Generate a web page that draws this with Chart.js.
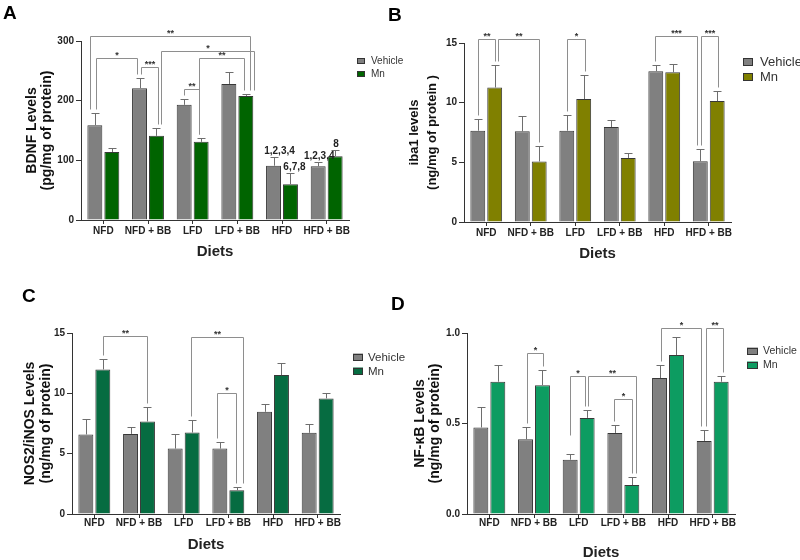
<!DOCTYPE html>
<html>
<head>
<meta charset="utf-8">
<script src="https://cdn.jsdelivr.net/npm/chart.js@4.4.1/dist/chart.umd.min.js"></script>
<style>
    body { margin: 0; background: #fff; }
    #page { position: relative; width: 800px; height: 560px; overflow: hidden; background: #fff; }
    canvas { position: absolute; }
</style>
</head>
<body>
<div id="page">
    <canvas id="chartA" width="405" height="280" style="left:0;top:0"></canvas>
    <canvas id="chartB" width="415" height="280" style="left:385px;top:0"></canvas>
    <canvas id="chartC" width="405" height="280" style="left:0;top:280px"></canvas>
    <canvas id="chartD" width="415" height="280" style="left:385px;top:280px"></canvas>
</div>
<script>
const diets = ["NFD", "NFD + BB", "LFD", "LFD + BB", "HFD", "HFD + BB"];

// A - BDNF (pg/mg of protein), mean and SEM
const bdnfVehicle = [159, 221, 193, 228, 91, 90];
const bdnfVehicleSem = [20, 17, 9, 20, 15, 8];
const bdnfMn = [114, 141, 131, 208, 60, 107];
const bdnfMnSem = [7, 14, 7, 3, 18, 10];

// B - iba1 (ng/mg of protein)
const ibaVehicle = [7.65, 7.6, 7.65, 7.96, 12.64, 5.09];
const ibaVehicleSem = [1.0, 1.3, 1.35, 0.55, 0.55, 1.0];
const ibaMn = [11.27, 5.07, 10.3, 5.37, 12.55, 10.13];
const ibaMnSem = [1.9, 1.28, 2.03, 0.45, 0.7, 0.87];

// C - NOS2/iNOS (ng/mg of protein)
const nosVehicle = [6.59, 6.64, 5.42, 5.42, 8.47, 6.73];
const nosVehicleSem = [1.27, 0.56, 1.22, 0.53, 0.61, 0.72];
const nosMn = [11.98, 7.67, 6.75, 1.97, 11.51, 9.58];
const nosMnSem = [0.83, 1.19, 1.03, 0.23, 0.97, 0.47];

// D - NF-kB (ng/mg of protein)
const nfkbVehicle = [0.478, 0.413, 0.30, 0.448, 0.751, 0.404];
const nfkbVehicleSem = [0.111, 0.067, 0.034, 0.045, 0.074, 0.059];
const nfkbMn = [0.731, 0.712, 0.531, 0.16, 0.878, 0.731];
const nfkbMnSem = [0.09, 0.081, 0.043, 0.043, 0.102, 0.033];

// significance brackets: [diet index, series index], bracket height in axis units
const bdnfBrackets = [
    { from: [0, 0], to: [3, 1], y: 308, text: "**", nudge: [-5, 4] },
    { from: [0, 0], to: [1, 0], y: 271, text: "*", nudge: [1, -3] },
    { from: [1, 0], to: [1, 1], y: 256, text: "***", nudge: [1, 2] },
    { from: [1, 1], to: [3, 1], y: 284, text: "*", nudge: [5, 8] },
    { from: [2, 1], to: [3, 1], y: 271, text: "**", nudge: [-2, -2] },
    { from: [2, 0], to: [2, 1], y: 219, text: "**", nudge: [0, -2] }
];
const bdnfGroupLabels = [
    { at: [4, 0], text: "1,2,3,4", dx: 6 },
    { at: [4, 1], text: "6,7,8", dx: 4 },
    { at: [5, 0], text: "1,2,3,4", dx: 1 },
    { at: [5, 1], text: "8", dx: 1 }
];
const ibaBrackets = [
    { from: [0, 0], to: [0, 1], y: 15.31, text: "**", nudge: [0, 0] },
    { from: [0, 1], to: [1, 1], y: 15.31, text: "**", nudge: [3, 0] },
    { from: [2, 0], to: [2, 1], y: 15.31, text: "*", nudge: [0, 1] },
    { from: [4, 0], to: [5, 0], y: 15.56, text: "***", nudge: [-1, -3] },
    { from: [5, 0], to: [5, 1], y: 15.56, text: "***", nudge: [1, 1] }
];
const nosBrackets = [
    { from: [0, 1], to: [1, 1], y: 14.72, text: "**", nudge: [0, 0] },
    { from: [2, 1], to: [3, 1], y: 14.67, text: "**", nudge: [-1, 6] },
    { from: [3, 0], to: [3, 1], y: 10.02, text: "*", nudge: [-3, -1] }
];
const nfkbBrackets = [
    { from: [1, 0], to: [1, 1], y: 0.889, text: "*", nudge: [1, 1] },
    { from: [2, 0], to: [2, 1], y: 0.764, text: "*", nudge: [0, -2], low: [0.434, null] },
    { from: [2, 1], to: [3, 1], y: 0.764, text: "**", nudge: [1, 4] },
    { from: [3, 0], to: [3, 1], y: 0.637, text: "*", nudge: [-1, 0] },
    { from: [4, 0], to: [5, 0], y: 1.027, text: "*", nudge: [1, -3] },
    { from: [5, 0], to: [5, 1], y: 1.027, text: "**", nudge: [2, 2] }
];

Chart.defaults.font.family = "'Liberation Sans', Arial, sans-serif";
Chart.defaults.color = "#222";

function errTopPixel(chart, dsIndex, cat) {
    const ds = chart.data.datasets[dsIndex];
    return chart.scales.y.getPixelForValue(ds.data[cat] + ds.sem[cat]);
}

const semBars = {
    id: "semBars",
    afterDatasetsDraw(chart) {
        const ctx = chart.ctx;
        ctx.save();
        ctx.strokeStyle = "#6e6e6e";
        ctx.lineWidth = 1;
        chart.data.datasets.forEach((ds, i) => {
            chart.getDatasetMeta(i).data.forEach((bar, j) => {
                const x = Math.round(bar.x) + 0.5;
                const top = Math.round(errTopPixel(chart, i, j)) + 0.5;
                ctx.beginPath();
                ctx.moveTo(x, bar.y);
                ctx.lineTo(x, top);
                ctx.moveTo(x - 4, top);
                ctx.lineTo(x + 4, top);
                ctx.stroke();
            });
        });
        ctx.restore();
    }
};

const brackets = {
    id: "brackets",
    afterDatasetsDraw(chart, args, opts) {
        const ctx = chart.ctx;
        const yScale = chart.scales.y;
        ctx.save();
        ctx.lineWidth = 1;
        (opts.items || []).forEach(b => {
            const ends = [b.from, b.to].map((p, k) => {
                const bar = chart.getDatasetMeta(p[1]).data[p[0]];
                const x = Math.round(bar.x + b.nudge[k]) + 0.5;
                let bottom = errTopPixel(chart, p[1], p[0]) - 4;
                if (b.low && b.low[k] != null) {
                    bottom = yScale.getPixelForValue(b.low[k]);
                }
                return { x, bottom: Math.round(bottom) + 0.5 };
            });
            const y = Math.round(yScale.getPixelForValue(b.y)) + 0.5;
            ctx.strokeStyle = "#8e8e8e";
            ctx.beginPath();
            ctx.moveTo(ends[0].x, ends[0].bottom);
            ctx.lineTo(ends[0].x, y);
            ctx.lineTo(ends[1].x, y);
            ctx.lineTo(ends[1].x, ends[1].bottom);
            ctx.stroke();
            ctx.fillStyle = "#333";
            ctx.font = "bold 9px 'Liberation Sans', Arial, sans-serif";
            ctx.textAlign = "center";
            ctx.textBaseline = "alphabetic";
            ctx.fillText(b.text, (ends[0].x + ends[1].x) / 2, y - 1);
        });
        (opts.labels || []).forEach(l => {
            const bar = chart.getDatasetMeta(l.at[1]).data[l.at[0]];
            ctx.fillStyle = "#222";
            ctx.font = "bold 10px 'Liberation Sans', Arial, sans-serif";
            ctx.textAlign = "center";
            ctx.textBaseline = "alphabetic";
            ctx.fillText(l.text, bar.x + (l.dx || 0), errTopPixel(chart, l.at[1], l.at[0]) - 3);
        });
        ctx.restore();
    }
};

const panelLegend = {
    id: "panelLegend",
    afterDraw(chart, args, opts) {
        const ctx = chart.ctx;
        ctx.save();
        chart.data.datasets.forEach((ds, i) => {
            const cy = opts.rows[i];
            ctx.fillStyle = ds.backgroundColor;
            ctx.fillRect(opts.x, cy - opts.boxH / 2, opts.boxW, opts.boxH);
            ctx.strokeStyle = "#333";
            ctx.lineWidth = 1;
            ctx.strokeRect(opts.x + 0.5, Math.round(cy - opts.boxH / 2) + 0.5, opts.boxW - 1, opts.boxH - 1);
            ctx.fillStyle = "#333";
            ctx.font = opts.size + "px 'Liberation Sans', Arial, sans-serif";
            ctx.textAlign = "left";
            ctx.textBaseline = "middle";
            ctx.fillText(ds.label, opts.x + opts.textGap, cy + 0.5);
        });
        // panel letter
        ctx.fillStyle = "#000";
        ctx.font = "bold 19px 'Liberation Sans', Arial, sans-serif";
        ctx.textBaseline = "alphabetic";
        ctx.fillText(opts.letter, opts.letterX, opts.letterY);
        ctx.restore();
    }
};

function buildPanel(id, cfg) {
    return new Chart(document.getElementById(id), {
        type: "bar",
        data: {
            labels: diets,
            datasets: [
                { label: "Vehicle", data: cfg.vehicle, sem: cfg.vehicleSem, backgroundColor: "#808080" },
                { label: "Mn", data: cfg.mn, sem: cfg.mnSem, backgroundColor: cfg.mnColor }
            ].map(ds => Object.assign(ds, {
                borderColor: "#383838",
                borderWidth: 1,
                categoryPercentage: 0.76,
                barPercentage: 0.88
            }))
        },
        plugins: [semBars, brackets, panelLegend],
        options: {
            responsive: false,
            animation: false,
            devicePixelRatio: 1,
            layout: { padding: { left: 0, top: cfg.top, right: cfg.right, bottom: 0 } },
            plugins: {
                legend: { display: false },
                tooltip: { enabled: false },
                brackets: { items: cfg.brackets, labels: cfg.labels || [] },
                panelLegend: cfg.legend
            },
            scales: {
                x: {
                    grid: { drawOnChartArea: false, offset: false, tickLength: 4, color: "#333" },
                    border: { color: "#333", width: 1 },
                    ticks: {
                        autoSkip: false, maxRotation: 0, minRotation: 0, padding: cfg.xTickPad,
                        font: { size: 10, weight: "bold", lineHeight: 1 }, color: "#222"
                    },
                    title: {
                        display: true, text: "Diets", color: "#222",
                        font: { size: 15, weight: "bold", lineHeight: 1 },
                        padding: { top: 0, bottom: cfg.xTitlePad }
                    },
                    afterFit: scale => { scale.height = cfg.xAxisHeight; }
                },
                y: {
                    min: 0,
                    max: cfg.max,
                    grid: { drawOnChartArea: false, tickLength: 5, color: "#333" },
                    border: { color: "#333", width: 1 },
                    ticks: {
                        stepSize: cfg.step, padding: 2, color: "#222",
                        font: { size: 10, weight: "bold" },
                        callback: cfg.tickFormat || (v => v)
                    },
                    title: {
                        display: true, text: cfg.yTitle, color: "#111",
                        font: { size: cfg.yTitleSize, weight: "bold", lineHeight: cfg.yTitleLine },
                        padding: { top: cfg.yTitlePad, bottom: 0 }
                    },
                    afterFit: scale => { scale.width = cfg.left; }
                }
            }
        }
    });
}

buildPanel("chartA", {
    vehicle: bdnfVehicle, vehicleSem: bdnfVehicleSem, mn: bdnfMn, mnSem: bdnfMnSem,
    mnColor: "#006400", max: 300, step: 100,
    yTitle: ["BDNF Levels", "(pg/mg of protein)"], yTitleSize: 14, yTitleLine: 1.07, yTitlePad: 24.5,
    left: 81, right: 56, top: 41, xAxisHeight: 60, xTickPad: 2, xTitlePad: 20.5,
    brackets: bdnfBrackets, labels: bdnfGroupLabels,
    legend: { x: 357, rows: [61, 74], boxW: 8, boxH: 6, size: 10, textGap: 14, letter: "A", letterX: 3, letterY: 19 }
});

buildPanel("chartB", {
    vehicle: ibaVehicle, vehicleSem: ibaVehicleSem, mn: ibaMn, mnSem: ibaMnSem,
    mnColor: "#808000", max: 15, step: 5,
    yTitle: ["iba1 levels", "(ng/mg of protein )"], yTitleSize: 13, yTitleLine: 1.35, yTitlePad: 21,
    left: 79, right: 69, top: 43, xAxisHeight: 58, xTickPad: 2, xTitlePad: 18.5,
    brackets: ibaBrackets,
    legend: { x: 358, rows: [62, 77], boxW: 10, boxH: 8, size: 13, textGap: 17, letter: "B", letterX: 3, letterY: 21 }
});

buildPanel("chartC", {
    vehicle: nosVehicle, vehicleSem: nosVehicleSem, mn: nosMn, mnSem: nosMnSem,
    mnColor: "#066c41", max: 15, step: 5,
    yTitle: ["NOS2/iNOS Levels", "(ng/mg of protein)"], yTitleSize: 14, yTitleLine: 1.143, yTitlePad: 22,
    left: 72, right: 65, top: 53, xAxisHeight: 46, xTickPad: 0, xTitlePad: 7.5,
    brackets: nosBrackets,
    legend: { x: 353, rows: [77, 91], boxW: 10, boxH: 7, size: 11.5, textGap: 15, letter: "C", letterX: 22, letterY: 22 }
});

buildPanel("chartD", {
    vehicle: nfkbVehicle, vehicleSem: nfkbVehicleSem, mn: nfkbMn, mnSem: nfkbMnSem,
    mnColor: "#0d9c61", max: 1, step: 0.5, tickFormat: v => v.toFixed(1),
    yTitle: ["NF-\u03baB Levels", "(ng/mg of protein)"], yTitleSize: 14, yTitleLine: 1.07, yTitlePad: 27.5,
    left: 82, right: 65, top: 53, xAxisHeight: 46, xTickPad: 0, xTitlePad: 0,
    brackets: nfkbBrackets,
    legend: { x: 362, rows: [71, 85], boxW: 11, boxH: 7, size: 10.5, textGap: 16, letter: "D", letterX: 6, letterY: 30 }
});
</script>
</body>
</html>
